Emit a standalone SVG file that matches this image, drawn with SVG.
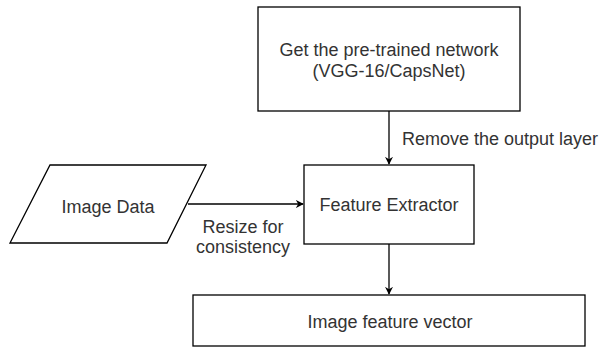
<svg xmlns="http://www.w3.org/2000/svg" width="602" height="349" viewBox="0 0 602 349">
  <style>
    .box { fill: #ffffff; stroke: #000000; stroke-width: 1.3; }
    .lbl { font-family: "Liberation Sans", Arial, sans-serif; font-size: 18px; fill: #333333; text-anchor: middle; }
    .edge { fill: none; stroke: #000000; stroke-width: 1.3; }
    .elbl { font-family: "Liberation Sans", Arial, sans-serif; font-size: 18px; fill: #333333; }
  </style>
  <defs>
    <marker id="arrow" viewBox="0 0 10 10" refX="9" refY="5" markerWidth="8" markerHeight="8" markerUnits="userSpaceOnUse" orient="auto">
      <path d="M0,0 L10,5 L0,10 L3,5 Z" fill="#000000"/>
    </marker>
  </defs>
  <rect width="602" height="349" fill="#ffffff"/>
  <g id="connectors">
    <g id="edge-remove">
      <line class="edge" x1="389" y1="111" x2="389" y2="164" marker-end="url(#arrow)"/>
      <text class="elbl" x="402" y="145">Remove the output layer</text>
    </g>
    <g id="edge-resize">
      <line class="edge" x1="188" y1="204" x2="303" y2="204" marker-end="url(#arrow)"/>
      <text class="elbl" x="243" y="233" text-anchor="middle">Resize for</text>
      <text class="elbl" x="243" y="253" text-anchor="middle">consistency</text>
    </g>
    <g id="edge-out">
      <line class="edge" x1="389" y1="244" x2="389" y2="294" marker-end="url(#arrow)"/>
    </g>
  </g>
  <g id="node-pretrained">
    <rect class="box" x="258" y="7" width="262" height="104"/>
    <text class="lbl" x="389" y="56">Get the pre-trained network</text>
    <text class="lbl" x="389" y="77">(VGG-16/CapsNet)</text>
  </g>
  <g id="node-imagedata">
    <polygon class="box" points="50,165 206,165 167,243 10,243"/>
    <text class="lbl" x="108" y="213">Image Data</text>
  </g>
  <g id="node-extractor">
    <rect class="box" x="304" y="165" width="170" height="79"/>
    <text class="lbl" x="389" y="211">Feature Extractor</text>
  </g>
  <g id="node-vector">
    <rect class="box" x="193" y="295" width="392" height="51"/>
    <text class="lbl" x="390" y="328">Image feature vector</text>
  </g>
</svg>
